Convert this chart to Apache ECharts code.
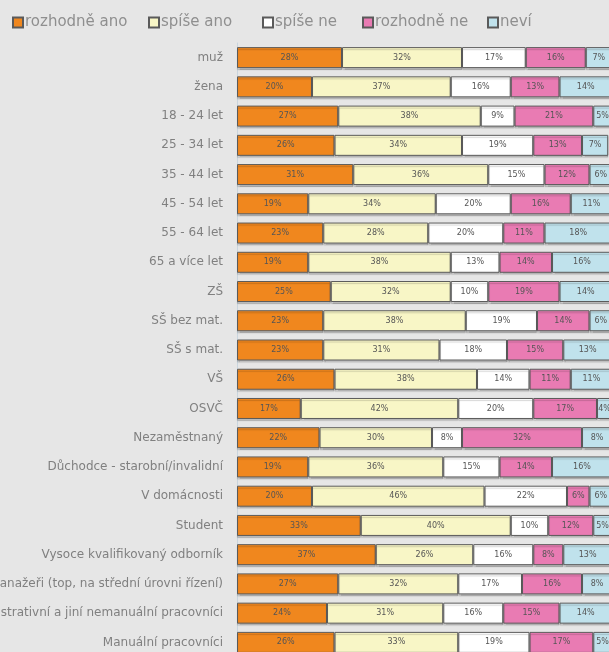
<!DOCTYPE html>
<html>
<head>
<meta charset="utf-8">
<script src="https://cdn.jsdelivr.net/npm/echarts@6/dist/echarts.min.js"></script>
<style>
html,body{margin:0;padding:0;background:#e6e6e6;}
#chart{width:609px;height:652px;}
</style>
</head>
<body>
<div id="chart"></div>
<script>
const categories = ["muž","žena","18 - 24 let","25 - 34 let","35 - 44 let","45 - 54 let","55 - 64 let","65 a více let","ZŠ","SŠ bez mat.","SŠ s mat.","VŠ","OSVČ","Nezaměstnaný","Důchodce - starobní/invalidní","V domácnosti","Student","Vysoce kvalifikovaný odborník","Manažeři (top, na střední úrovni řízení)","Administrativní a jiní nemanuální pracovníci","Manuální pracovníci"];
const seriesNames = ["rozhodně ano","spíše ano","spíše ne","rozhodně ne","neví"];
const rozhodneAno = [28,20,27,26,31,19,23,19,25,23,23,26,17,22,19,20,33,37,27,24,26];
const spiseAno    = [32,37,38,34,36,34,28,38,32,38,31,38,42,30,36,46,40,26,32,31,33];
const spiseNe     = [17,16,9,19,15,20,20,13,10,19,18,14,20,8,15,22,10,16,17,16,19];
const rozhodneNe  = [16,13,21,13,12,16,11,14,19,14,15,11,17,32,14,6,12,8,16,15,17];
const nevi        = [7,14,5,7,6,11,18,16,14,6,13,11,4,8,16,6,5,13,8,14,5];
const values = [rozhodneAno, spiseAno, spiseNe, rozhodneNe, nevi];
const colors = ["#f0871e","#f8f6c6","#ffffff","#e97bb3","#c0e2ec"];
const legendLefts = [12, 148, 262, 362, 487];

const chart = echarts.init(document.getElementById('chart'));
chart.setOption({
  backgroundColor: '#e6e6e6',
  animation: false,
  legend: seriesNames.map((n, i) => ({
    left: legendLefts[i], top: 15, padding: 0,
    itemWidth: 10, itemHeight: 10, itemGap: 0,
    icon: 'rect',
    textStyle: {fontFamily: 'DejaVu Sans', fontSize: 15, color: '#8f8f8f', padding: [0, 0, 0, -3]},
    data: [n]
  })),
  grid: {left: 237, top: 43, width: 375, height: 614, outerBoundsMode: 'none', containLabel: false},
  xAxis: {type: 'value', min: 0, max: 100, show: false},
  yAxis: {
    type: 'category', inverse: true, data: categories, offset: 6,
    axisLine: {lineStyle: {color: '#c9d5de'}},
    axisTick: {length: 3, lineStyle: {color: '#c9d5de'}},
    axisLabel: {fontFamily: 'DejaVu Sans', fontSize: 12, color: '#808080', margin: 8},
    splitLine: {show: false}
  },
  series: seriesNames.map((n, i) => ({
    name: n, type: 'bar', stack: 'total', barWidth: 21,
    data: values[i],
    itemStyle: {color: colors[i], borderColor: '#5a5a5a', borderWidth: 1,
      shadowColor: 'rgba(0,0,0,0.18)', shadowOffsetY: 2, shadowBlur: 1},
    label: {show: true, position: 'inside', formatter: '{c}%',
      fontFamily: 'DejaVu Sans', fontSize: 8, color: '#555'}
  }))
});
</script>
</body>
</html>
